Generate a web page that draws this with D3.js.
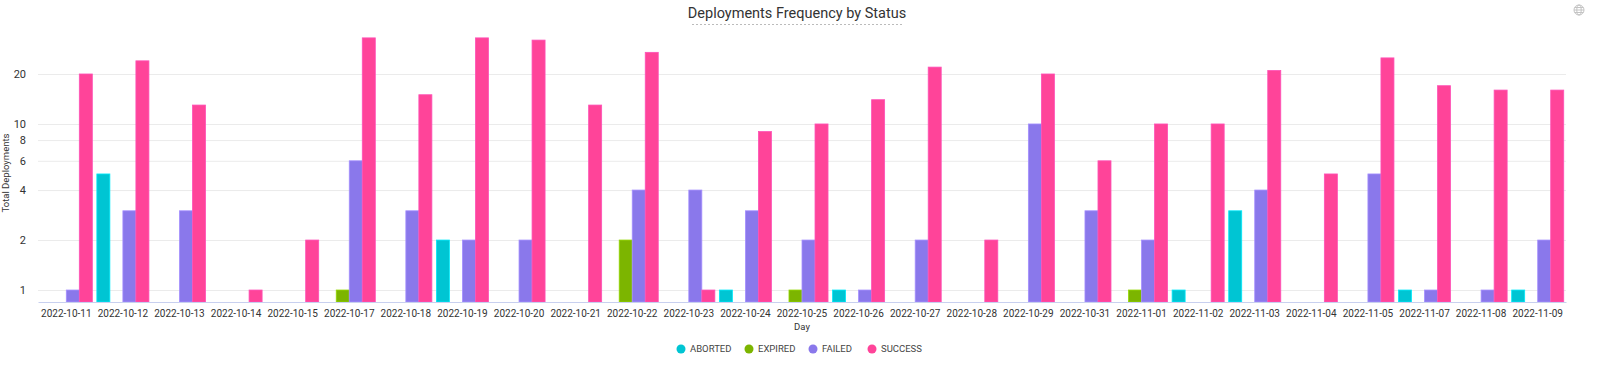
<!DOCTYPE html>
<html>
<head>
<meta charset="utf-8">
<script src="https://cdn.jsdelivr.net/npm/d3@7"></script>
<style>
  body { margin: 0; background: #fff; }
  text { font-family: Roboto, "Noto Sans", sans-serif; }
</style>
</head>
<body>
<svg width="1600" height="370"></svg>
<script>
const days = ['2022-10-11', '2022-10-12', '2022-10-13', '2022-10-14', '2022-10-15', '2022-10-17',
  '2022-10-18', '2022-10-19', '2022-10-20', '2022-10-21', '2022-10-22', '2022-10-23', '2022-10-24',
  '2022-10-25', '2022-10-26', '2022-10-27', '2022-10-28', '2022-10-29', '2022-10-31', '2022-11-01',
  '2022-11-02', '2022-11-03', '2022-11-04', '2022-11-05', '2022-11-07', '2022-11-08', '2022-11-09'];

const statuses = ['ABORTED', 'EXPIRED', 'FAILED', 'SUCCESS'];
const colors = ['#00c5d3', '#7cb500', '#8a78eb', '#ff4499'];

// 0 = no deployments that day
const aborted = [0, 5, 0, 0, 0, 0, 0, 2, 0, 0, 0, 0, 1, 0, 1, 0, 0, 0, 0, 0, 1, 3, 0, 0, 1, 0, 1];
const expired = [0, 0, 0, 0, 0, 1, 0, 0, 0, 0, 2, 0, 0, 1, 0, 0, 0, 0, 0, 1, 0, 0, 0, 0, 0, 0, 0];
const failed  = [1, 3, 3, 0, 0, 6, 3, 2, 2, 0, 4, 4, 3, 2, 1, 2, 0, 10, 3, 2, 0, 4, 0, 5, 1, 1, 2];
const success = [20, 24, 13, 1, 2, 33, 15, 33, 32, 13, 27, 1, 9, 10, 14, 22, 2, 20, 6, 10, 10, 21, 5, 25, 17, 16, 16];

const yTicks = [1, 2, 4, 6, 8, 10, 20];

const series = [aborted, expired, failed, success];

const svg = d3.select('svg');

const plotLeft = 38, plotRight = 1566, plotTop = 24, plotBottom = 302;

const x = d3.scaleBand()
  .domain(days)
  .range([plotLeft, plotRight])
  .paddingInner(0.08)
  .paddingOuter(0.04);

const xs = d3.scaleBand()
  .domain(statuses)
  .range([0, x.bandwidth()]);

const y = d3.scaleLog()
  .domain([0.847, 40])
  .range([plotBottom, plotTop]);

// title
svg.append('text')
  .attr('x', 797)
  .attr('y', 18)
  .attr('text-anchor', 'middle')
  .attr('font-size', 14.5)
  .attr('fill', '#333')
  .text('Deployments Frequency by Status');

svg.append('line')
  .attr('x1', 692).attr('x2', 902)
  .attr('y1', 24.5).attr('y2', 24.5)
  .attr('stroke', '#bbb')
  .attr('stroke-dasharray', '2,2');

// globe icon
const globe = svg.append('g')
  .attr('transform', 'translate(1579,10)')
  .attr('fill', 'none')
  .attr('stroke', '#c4c4c4')
  .attr('stroke-width', 1);
globe.append('circle').attr('r', 5);
globe.append('ellipse').attr('rx', 2.2).attr('ry', 5);
globe.append('line').attr('x1', -5).attr('x2', 5);
globe.append('line').attr('x1', -4.3).attr('x2', 4.3).attr('y1', -2.5).attr('y2', -2.5);
globe.append('line').attr('x1', -4.3).attr('x2', 4.3).attr('y1', 2.5).attr('y2', 2.5);

// grid + y labels
const yAxis = svg.append('g')
  .attr('transform', `translate(${plotLeft},0)`)
  .call(d3.axisLeft(y)
    .tickValues(yTicks)
    .tickFormat(d3.format('d'))
    .tickSize(-(plotRight - plotLeft))
    .tickPadding(12));
yAxis.select('.domain').remove();
yAxis.selectAll('.tick line').attr('stroke', '#ebebeb');
yAxis.selectAll('.tick text').attr('fill', '#333').attr('font-size', 11);

svg.append('text')
  .attr('transform', 'translate(9,173) rotate(-90)')
  .attr('text-anchor', 'middle')
  .attr('font-size', 9.5)
  .attr('fill', '#333')
  .text('Total Deployments');

// bars
const groups = svg.append('g')
  .selectAll('g')
  .data(days)
  .join('g')
  .attr('transform', d => `translate(${x(d)},0)`);

groups.selectAll('rect')
  .data((d, i) => statuses.map((s, k) => ({ s, k, v: series[k][i] })).filter(e => e.v > 0))
  .join('rect')
  .attr('x', e => xs(e.s))
  .attr('width', xs.bandwidth())
  .attr('y', e => y(e.v))
  .attr('height', e => plotBottom - y(e.v))
  .attr('fill', e => colors[e.k])
  .attr('stroke', e => d3.color(colors[e.k]).brighter(0.5))
  .attr('stroke-width', 0.8);

// x axis
const xAxis = svg.append('g')
  .attr('transform', `translate(0,${plotBottom})`)
  .call(d3.axisBottom(x).tickSize(0).tickPadding(8));
xAxis.select('.domain').attr('stroke', '#c8d0ef');
xAxis.selectAll('.tick text').attr('fill', '#333').attr('font-size', 10);

svg.append('text')
  .attr('x', (plotLeft + plotRight) / 2)
  .attr('y', 330)
  .attr('text-anchor', 'middle')
  .attr('font-size', 9.5)
  .attr('fill', '#333')
  .text('Day');

// legend
const legendX = [681, 749, 813, 872];
const legend = svg.append('g')
  .selectAll('g')
  .data(statuses)
  .join('g')
  .attr('transform', (d, i) => `translate(${legendX[i]},349)`);
legend.append('circle')
  .attr('r', 4.5)
  .attr('fill', (d, i) => colors[i]);
legend.append('text')
  .attr('x', 9)
  .attr('dy', '0.35em')
  .attr('font-size', 9.5)
  .attr('fill', '#444')
  .text(d => d);
</script>
</body>
</html>
